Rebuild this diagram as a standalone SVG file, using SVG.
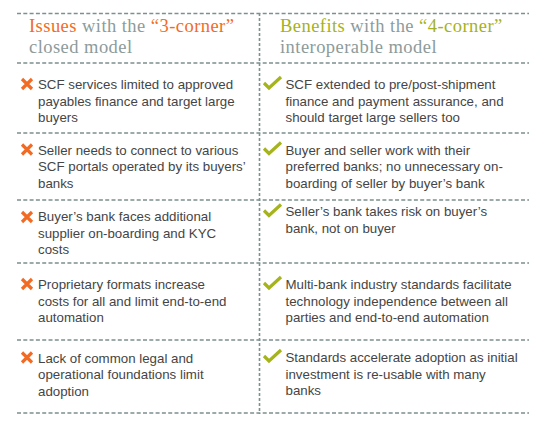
<svg xmlns="http://www.w3.org/2000/svg" width="558" height="432" viewBox="0 0 558 432">
<defs>
<style>
.dash{stroke:#7e8f8f;stroke-width:1.6;stroke-dasharray:4 2.3;fill:none}
.vdash{stroke:#7e8f8f;stroke-width:1.6;stroke-dasharray:3 2;fill:none}
.hd{font-family:"Liberation Serif","Times New Roman",serif;font-size:18.5px;letter-spacing:0.45px;fill:#8d9b9b}
.or{fill:#f26b25}
.gr{fill:#a5b21e}
.tx{font-family:"Liberation Sans",Arial,sans-serif;font-size:13.3px;fill:#454545}
.x{stroke:#f26b25;stroke-width:3.2;fill:none}
.ck{stroke:#a5b41a;stroke-width:3.2;fill:none;stroke-linejoin:miter}
</style>
<g id="xmark"><path class="x" d="M-5,-5 L5,5 M5,-5 L-5,5"/></g>
<path id="check" class="ck" d="M-9,0 L-4,5 L8,-6"/>
</defs>
<rect width="558" height="432" fill="#ffffff"/>
<g id="grid">
<line class="dash" x1="17" y1="13.5" x2="529" y2="13.5"/>
<line class="dash" x1="17" y1="63" x2="529" y2="63"/>
<line class="dash" x1="17" y1="133" x2="529" y2="133"/>
<line class="dash" x1="17" y1="200" x2="529" y2="200"/>
<line class="dash" x1="17" y1="263" x2="529" y2="263"/>
<line class="dash" x1="17" y1="340" x2="529" y2="340"/>
<line class="dash" x1="17" y1="413" x2="529" y2="413"/>
<line class="vdash" x1="259.5" y1="13" x2="259.5" y2="414"/>
</g>
<g id="header-left">
<text class="hd or" x="29" y="32">Issues</text>
<text class="hd" x="82" y="32">with the</text>
<text class="hd or" x="150.8" y="32">“3-corner”</text>
<text class="hd" x="29" y="52.6">closed model</text>
</g>
<g id="header-right">
<text class="hd gr" x="280" y="32">Benefits</text>
<text class="hd" x="350.3" y="32">with the</text>
<text class="hd gr" x="419.1" y="32">“4-corner”</text>
<text class="hd" x="280" y="52.6">interoperable model</text>
</g>
<g id="issue1">
<use href="#xmark" x="27" y="84"/>
<text class="tx" x="38" y="89">SCF services limited to approved</text>
<text class="tx" x="38" y="105.7">payables finance and target large</text>
<text class="tx" x="38" y="122.4">buyers</text>
</g>
<g id="issue2">
<use href="#xmark" x="27" y="149.5"/>
<text class="tx" x="38" y="154.5">Seller needs to connect to various</text>
<text class="tx" x="38" y="171.2">SCF portals operated by its buyers’</text>
<text class="tx" x="38" y="187.9">banks</text>
</g>
<g id="issue3">
<use href="#xmark" x="27" y="217"/>
<text class="tx" x="38" y="221">Buyer’s bank faces additional</text>
<text class="tx" x="38" y="237.7">supplier on-boarding and KYC</text>
<text class="tx" x="38" y="254.4">costs</text>
</g>
<g id="issue4">
<use href="#xmark" x="27" y="284"/>
<text class="tx" x="38" y="289">Proprietary formats increase</text>
<text class="tx" x="38" y="305.7">costs for all and limit end-to-end</text>
<text class="tx" x="38" y="322.4">automation</text>
</g>
<g id="issue5">
<use href="#xmark" x="27" y="357.5"/>
<text class="tx" x="38" y="362.5">Lack of common legal and</text>
<text class="tx" x="38" y="379.2">operational foundations limit</text>
<text class="tx" x="38" y="395.9">adoption</text>
</g>
<g id="benefit1">
<use href="#check" x="273" y="83"/>
<text class="tx" x="285.5" y="89">SCF extended to pre/post-shipment</text>
<text class="tx" x="285.5" y="105.7">finance and payment assurance, and</text>
<text class="tx" x="285.5" y="122.4">should target large sellers too</text>
</g>
<g id="benefit2">
<use href="#check" x="273" y="148.5"/>
<text class="tx" x="285.5" y="154.5">Buyer and seller work with their</text>
<text class="tx" x="285.5" y="171.2">preferred banks; no unnecessary on-</text>
<text class="tx" x="285.5" y="187.9">boarding of seller by buyer’s bank</text>
</g>
<g id="benefit3">
<use href="#check" x="273" y="210.5"/>
<text class="tx" x="285.5" y="216.3">Seller’s bank takes risk on buyer’s</text>
<text class="tx" x="285.5" y="233">bank, not on buyer</text>
</g>
<g id="benefit4">
<use href="#check" x="273" y="283"/>
<text class="tx" x="285.5" y="289">Multi-bank industry standards facilitate</text>
<text class="tx" x="285.5" y="305.7">technology independence between all</text>
<text class="tx" x="285.5" y="322.4">parties and end-to-end automation</text>
</g>
<g id="benefit5">
<use href="#check" x="273" y="356"/>
<text class="tx" x="285.5" y="362">Standards accelerate adoption as initial</text>
<text class="tx" x="285.5" y="378.7">investment is re-usable with many</text>
<text class="tx" x="285.5" y="395.4">banks</text>
</g>
</svg>
